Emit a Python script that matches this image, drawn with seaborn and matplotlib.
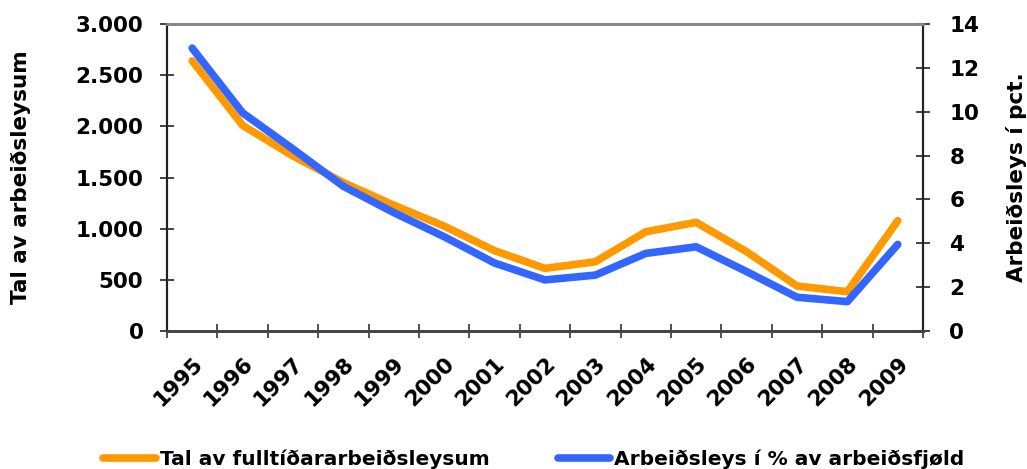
import pandas as pd
import matplotlib
matplotlib.use("Agg")
import matplotlib.pyplot as plt
import matplotlib.transforms as mtransforms
import seaborn as sns
from matplotlib.ticker import FuncFormatter, FixedLocator

# data
years = [str(y) for y in range(1995, 2010)]
fulltime_unemployed = [2640, 2010, 1710, 1450, 1230, 1025, 785, 612, 677, 970,
                       1062, 775, 440, 384, 1078]
unemployment_pct = [12.9, 9.95, 8.3, 6.6, 5.4, 4.3, 3.1, 2.33, 2.55, 3.54,
                    3.84, 2.71, 1.54, 1.34, 3.95]

orange = "#FF9900"
blue = "#3366FF"

df = pd.DataFrame({"Ár": years,
                   "Tal": fulltime_unemployed,
                   "Pct": unemployment_pct})
df["pos"] = range(len(df))

sns.set_theme(style="white")
plt.rcParams["font.family"] = ["DejaVu Sans"]
plt.rcParams["font.weight"] = "bold"
for key in ("text.color", "axes.labelcolor", "xtick.labelcolor", "ytick.labelcolor"):
    plt.rcParams[key] = "black"

fs = 15.5

fig, ax = plt.subplots(figsize=(10.27, 4.69), dpi=100)
fig.subplots_adjust(left=0.1626, right=0.8987, top=0.9488, bottom=0.2942)
ax2 = ax.twinx()

sns.lineplot(data=df, x="pos", y="Tal", ax=ax, color=orange, linewidth=5.5,
             solid_capstyle="round", label="Tal av fulltíðararbeiðsleysum", legend=False)
sns.lineplot(data=df, x="pos", y="Pct", ax=ax2, color=blue, linewidth=5.5,
             solid_capstyle="round", label="Arbeiðsleys í % av arbeiðsfjøld", legend=False)

ax.set_xlim(-0.5, len(years) - 0.5)
ax.set_ylim(0, 3000)
ax2.set_ylim(0, 14)
ax.set_yticks(range(0, 3001, 500))
ax2.set_yticks(range(0, 15, 2))
ax.yaxis.set_major_formatter(FuncFormatter(lambda v, p: f"{int(v):,}".replace(",", ".")))

# labels at category centres, tick marks at the category boundaries
ax.set_xticks(df["pos"])
ax.set_xticklabels(years, rotation=45, ha="right", rotation_mode="anchor",
                   fontsize=fs, fontweight="bold")
shift = mtransforms.ScaledTranslation(-6 / 100, 0, fig.dpi_scale_trans)
for lab in ax.get_xticklabels():
    lab.set_transform(lab.get_transform() + shift)
ax.xaxis.set_minor_locator(FixedLocator([i - 0.5 for i in range(len(years) + 1)]))
ax.tick_params(axis="x", which="major", length=0, pad=16)
ax.tick_params(axis="x", which="minor", length=10, width=1.2, direction="inout",
               bottom=True, color="#333333")
ax.tick_params(axis="y", length=10, width=1.2, direction="inout", left=True,
               color="#222222", labelsize=fs, pad=12)
ax2.tick_params(axis="y", length=10, width=1.2, direction="inout", right=True,
                color="#222222", labelsize=fs, pad=14)
for lab in ax.get_yticklabels() + ax2.get_yticklabels():
    lab.set_fontweight("bold")

ax.set_xlabel("")
ax.set_ylabel("Tal av arbeiðsleysum", fontsize=fs, fontweight="bold", labelpad=32)
ax2.set_ylabel("Arbeiðsleys í pct.", fontsize=fs, fontweight="bold", labelpad=19)

for a in (ax, ax2):
    a.spines["top"].set_color("#888888")
    a.spines["top"].set_linewidth(2)
    a.spines["left"].set_color("#222222")
    a.spines["left"].set_linewidth(1.5)
    a.spines["right"].set_color("#222222")
    a.spines["right"].set_linewidth(1.5)
    a.spines["bottom"].set_color("#444444")
    a.spines["bottom"].set_linewidth(2)
    a.grid(False)

h1, l1 = ax.get_legend_handles_labels()
h2, l2 = ax2.get_legend_handles_labels()
fig.legend(h1 + h2, l1 + l2, loc="lower center", bbox_to_anchor=(0.52, 0.0),
           ncol=2, frameon=False, handlelength=2.6, handletextpad=0.2,
           borderpad=0.0, borderaxespad=0.0, columnspacing=3.4,
           prop={"size": 14.5, "weight": "bold"})

plt.savefig("out.png", dpi=100)
